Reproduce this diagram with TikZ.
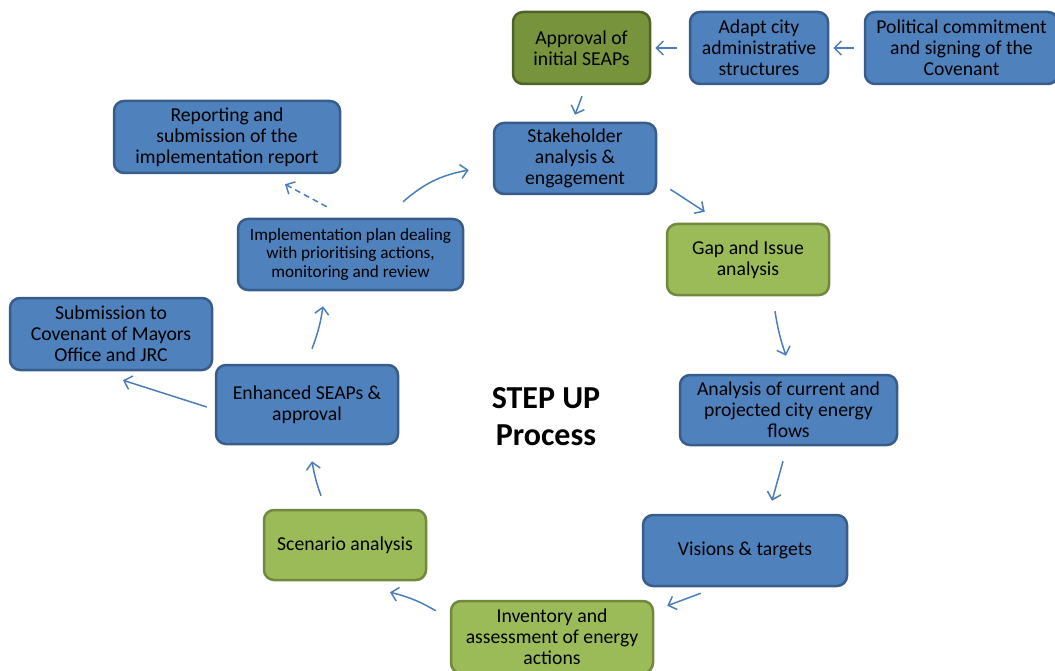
\documentclass[tikz,border=0pt]{standalone}
\usepackage{fontspec}
\setmainfont{Carlito}
\usetikzlibrary{arrows.meta,positioning}
\definecolor{bluefill}{HTML}{4F81BD}
\definecolor{blueline}{HTML}{385D8A}
\definecolor{greenfill}{HTML}{9BBB59}
\definecolor{greenline}{HTML}{71893F}
\definecolor{olivefill}{HTML}{77933C}
\definecolor{oliveline}{HTML}{4F6228}
\definecolor{arrowblue}{HTML}{4A7EBB}
\tikzset{
  box/.style={rounded corners=10pt, line width=2.5pt, inner sep=0pt, align=center,
    font=\fontsize{19.7}{21}\selectfont, text=black},
  bluebox/.style={box, fill=bluefill, draw=blueline},
  greenbox/.style={box, fill=greenfill, draw=greenline},
  olivebox/.style={box, fill=olivefill, draw=oliveline},
  arr/.style={draw=arrowblue, line width=1.5pt, -{Straight Barb[length=7pt,width=14pt]}},
  dasharr/.style={arr, dash pattern=on 6pt off 4pt},
}
\begin{document}
\begin{tikzpicture}[x=1pt,y=-1pt]
\useasboundingbox (0,0) rectangle (1055,671);
% nodes
\node[olivebox, minimum width=137pt, minimum height=72pt] (appr) at (581.5,48) {Approval of\\initial SEAPs};
\node[bluebox, minimum width=138pt, minimum height=72pt] (adapt) at (759,48) {Adapt city\\administrative\\structures};
\node[bluebox, minimum width=193pt, minimum height=72pt] (pol) at (961.5,48) {Political commitment\\and signing of the\\Covenant};
\node[bluebox, minimum width=162pt, minimum height=71pt] (stake) at (575,158.5) {Stakeholder\\analysis \&\\engagement};
\node[bluebox, minimum width=226pt, minimum height=72pt] (rep) at (227,137) {Reporting and\\submission of the\\implementation report};
\node[bluebox, minimum width=225pt, minimum height=71pt, font=\fontsize{17.2}{18.5}\selectfont] (impl) at (350.5,254.5) {Implementation plan dealing\\with prioritising actions,\\monitoring and review};
\node[greenbox, minimum width=162pt, minimum height=71pt] (gap) at (748,259.5) {Gap and Issue\\analysis};
\node[bluebox, minimum width=202pt, minimum height=72pt] (sub) at (111,334) {Submission to\\Covenant of Mayors\\Office and JRC};
\node[bluebox, minimum width=182pt, minimum height=79pt] (enh) at (307,404.5) {Enhanced SEAPs \&\\approval};
\node[bluebox, minimum width=217pt, minimum height=70pt] (anal) at (788.5,410) {Analysis of current and\\projected city energy\\flows};
\node[font=\fontsize{32}{37}\selectfont\bfseries, align=center, inner sep=0pt] (title) at (546,417) {STEP UP\\Process};
\node[greenbox, minimum width=162pt, minimum height=70pt] (scen) at (345,545) {Scenario analysis};
\node[bluebox, minimum width=204pt, minimum height=71pt] (vis) at (745,550.5) {Visions \& targets};
\node[greenbox, minimum width=202pt, minimum height=72pt] (inv) at (552,637) {Inventory and\\assessment of energy\\actions};
% connectors
\draw[arr] ([shift={(-10,0)}]pol.west) -- ([shift={(4,0)}]adapt.east);
\draw[arr] ([shift={(-12,0)}]adapt.west) -- ([shift={(4,0)}]appr.east);
\draw[arr] ([shift={(0.5,11)}]appr.south) -- ([shift={(0,-7)}]stake.north);
\draw[arr] ([shift={(13,-6)}]stake.south east) -- ([shift={(39,-11)}]gap.north west);
\draw[arr] ([shift={(27,15)}]gap.south) to[bend right=5] ([shift={(-2.5,-18)}]anal.north);
\draw[arr] ([shift={(-5.5,15)}]anal.south) -- ([shift={(27,-13)}]vis.north);
\draw[arr] ([shift={(59,6)}]vis.south west) -- ([shift={(13,6)}]inv.north east);
\draw[arr] ([shift={(-14,11)}]inv.north west) to[bend right=8] ([shift={(45,11)}]scen.south);
\draw[arr] ([shift={(-24,-13)}]scen.north) to[bend left=5] ([shift={(5,16)}]enh.south);
\draw[arr] ([shift={(5,-15)}]enh.north) to[bend right=6] ([shift={(-27.5,15)}]impl.south);
\draw[arr] ([shift={(52.5,-16)}]impl.north) to[bend left=15] ([shift={(-24,11.5)}]stake.west);
\draw[dasharr] ([shift={(90,-11)}]impl.north west) -- ([shift={(58,10)}]rep.south);
\draw[arr] ([shift={(-8,2.5)}]enh.west) -- ([shift={(12,9)}]sub.south);
\end{tikzpicture}
\end{document}
